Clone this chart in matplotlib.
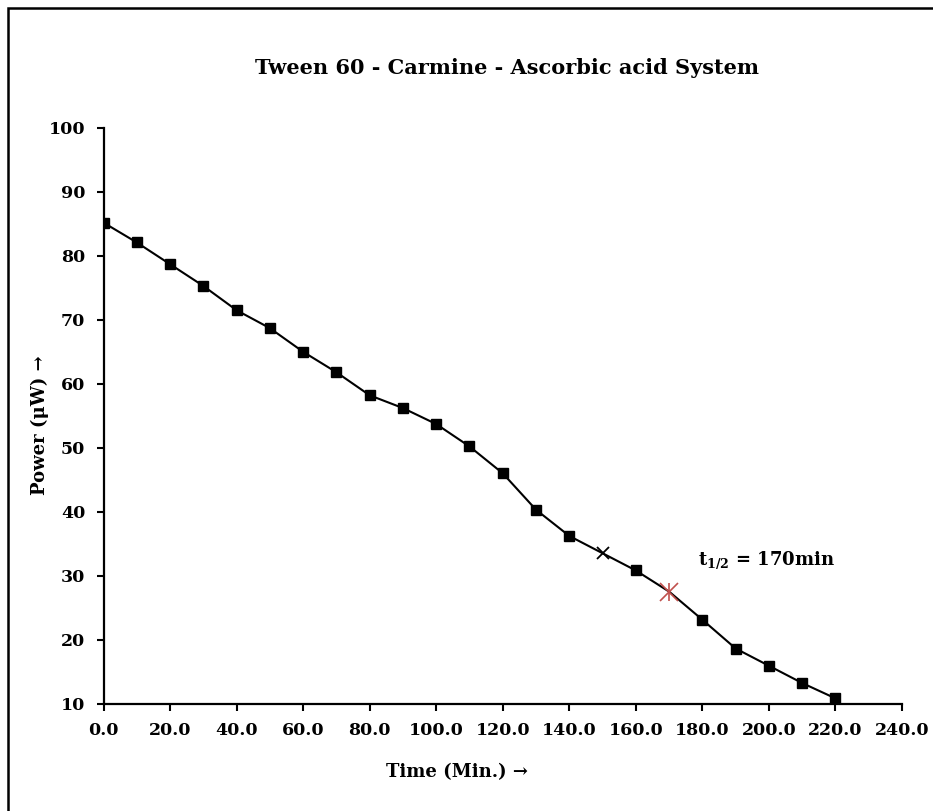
import matplotlib
matplotlib.use("Agg")
import matplotlib.pyplot as plt
from matplotlib.patches import Rectangle

# data
time_min = [0, 10, 20, 30, 40, 50, 60, 70, 80, 90, 100, 110, 120, 130, 140,
            150, 160, 170, 180, 190, 200, 210, 220]
power_uw = [85.2, 82.1, 78.7, 75.3, 71.5, 68.7, 65.0, 61.8, 58.2, 56.2, 53.7,
            50.2, 46.0, 40.3, 36.2, 33.5, 30.8, 27.5, 23.1, 18.6, 15.9, 13.2, 10.8]
cross_idx = 15    # 150 min, small x marker
half_idx = 17     # 170 min, half-life point
xticks = [0, 20, 40, 60, 80, 100, 120, 140, 160, 180, 200, 220, 240]
yticks = [10, 20, 30, 40, 50, 60, 70, 80, 90, 100]

plt.rcParams['font.family'] = ['DejaVu Serif']
plt.rcParams['font.weight'] = 'bold'
plt.rcParams['mathtext.fontset'] = 'dejavuserif'

fig = plt.figure(figsize=(9.33, 8.11), dpi=100)
ax = fig.add_axes([103.5 / 933, 1 - 703.5 / 811, 798.5 / 933, 575.5 / 811])

# outer chart border (only top/left visible in the crop)
fig.patches.append(Rectangle((8 / 933, -0.1), 1.2, 1 - 8 / 811 + 0.1,
                             transform=fig.transFigure, fill=False,
                             edgecolor='black', linewidth=1.8))

ax.plot(time_min, power_uw, color='black', linewidth=1.5, zorder=2)
sq_x = [t for i, t in enumerate(time_min) if i not in (cross_idx, half_idx)]
sq_y = [p for i, p in enumerate(power_uw) if i not in (cross_idx, half_idx)]
ax.plot(sq_x, sq_y, linestyle='none', marker='s', markersize=7.3,
        color='black', zorder=3)
ax.plot(time_min[cross_idx], power_uw[cross_idx], marker='x', markersize=8,
        color='black', markeredgewidth=1.3, zorder=3)
# excel style star: x plus vertical bar
ax.plot(time_min[half_idx], power_uw[half_idx], marker='x', markersize=12.5,
        color='#C0504D', markeredgewidth=1.2, zorder=3)
ax.plot(time_min[half_idx], power_uw[half_idx], marker='|', markersize=13.5,
        color='#C0504D', markeredgewidth=1.2, zorder=3)

ax.text(178.8, 32.4, r'$\mathbf{t_{1/2}}$ = 170min', fontsize=13,
        fontweight='bold', ha='left', va='center')

ax.set_xlim(0, 240)
ax.set_ylim(10, 100)
ax.set_xticks(xticks)
ax.set_xticklabels(['%.1f' % v for v in xticks])
ax.set_yticks(yticks)
ax.tick_params(direction='out', length=5, width=1.5, labelsize=12.5, pad=8)
for lab in ax.get_xticklabels() + ax.get_yticklabels():
    lab.set_fontweight('bold')

for s in ('top', 'right'):
    ax.spines[s].set_visible(False)
ax.spines['left'].set_linewidth(1.6)
ax.spines['bottom'].set_linewidth(1.6)

fig.text(457 / 933, 1 - 772 / 811, 'Time (Min.) →', fontsize=13,
         fontweight='bold', ha='center', va='center')
fig.text(40 / 933, 1 - 425 / 811, 'Power (μW) →', fontsize=13,
         fontweight='bold', ha='center', va='center', rotation=90)
fig.text(507 / 933, 1 - 68 / 811, 'Tween 60 - Carmine - Ascorbic acid System',
         fontsize=15, fontweight='bold', ha='center', va='center')

fig.savefig('out.png', dpi=100)
